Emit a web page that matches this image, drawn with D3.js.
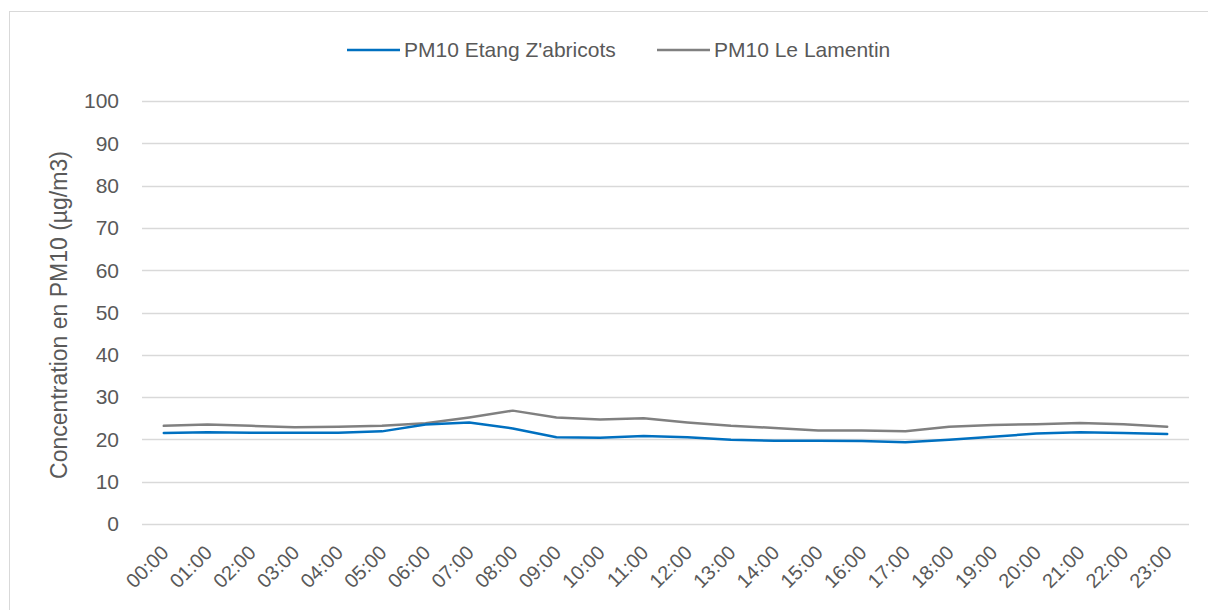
<!DOCTYPE html>
<html>
<head>
<meta charset="utf-8">
<script src="https://cdn.jsdelivr.net/npm/d3@7"></script>
<style>
  body { margin: 0; background: #fff; }
  svg text { font-family: "Liberation Sans", Arial, sans-serif; fill: #595959; }
</style>
</head>
<body>
<div id="chart"></div>
<script>
var hours = ["00:00","01:00","02:00","03:00","04:00","05:00","06:00","07:00","08:00","09:00","10:00","11:00",
             "12:00","13:00","14:00","15:00","16:00","17:00","18:00","19:00","20:00","21:00","22:00","23:00"];
var etangValues = [21.5, 21.7, 21.6, 21.6, 21.6, 21.9, 23.5, 24.0, 22.6, 20.5, 20.4, 20.8,
                   20.5, 19.9, 19.7, 19.7, 19.6, 19.3, 19.9, 20.6, 21.4, 21.7, 21.5, 21.3];
var lamentinValues = [23.2, 23.5, 23.2, 22.9, 23.0, 23.2, 23.8, 25.2, 26.8, 25.2, 24.7, 25.0,
                      24.0, 23.2, 22.7, 22.1, 22.1, 21.9, 23.0, 23.4, 23.6, 23.9, 23.6, 23.0];
var yTicks = [0, 10, 20, 30, 40, 50, 60, 70, 80, 90, 100];
var seriesNames = ["PM10 Etang Z'abricots", "PM10 Le Lamentin"];
var seriesColors = ["#0070C0", "#808080"];

var width = 1208, height = 610;
var margin = {left: 142, right: 20, top: 101, bottom: 86};

var svg = d3.select("#chart").append("svg")
    .attr("width", width)
    .attr("height", height);

// chart border
svg.append("rect")
    .attr("x", 9.5).attr("y", 11.5)
    .attr("width", 1230).attr("height", 640)
    .attr("fill", "none")
    .attr("stroke", "#d9d9d9")
    .attr("stroke-width", 1);

var x = d3.scaleBand()
    .domain(hours)
    .range([margin.left, 1189]);

var y = d3.scaleLinear()
    .domain([0, 100])
    .range([524, margin.top]);

// gridlines
svg.append("g")
    .selectAll("line")
    .data(yTicks)
    .enter()
    .append("line")
    .attr("x1", margin.left)
    .attr("x2", 1189)
    .attr("y1", function(d) { return Math.round(y(d)) + 0.5; })
    .attr("y2", function(d) { return Math.round(y(d)) + 0.5; })
    .attr("stroke", "#d9d9d9")
    .attr("stroke-width", 1.5);

// y tick labels
svg.append("g")
    .selectAll("text")
    .data(yTicks)
    .enter()
    .append("text")
    .attr("x", 119)
    .attr("y", function(d) { return y(d); })
    .attr("dy", "0.35em")
    .attr("text-anchor", "end")
    .style("font-size", "21px")
    .text(function(d) { return d; });

// x tick labels
svg.append("g")
    .selectAll("text")
    .data(hours)
    .enter()
    .append("text")
    .attr("transform", function(d) {
        var cx = x(d) + x.bandwidth() / 2;
        return "translate(" + (cx + 1) + "," + 549 + ") rotate(-45)";
    })
    .attr("text-anchor", "end")
    .attr("dy", "0.35em")
    .style("font-size", "20px")
    .text(function(d) { return d; });

// y axis title
svg.append("text")
    .attr("transform", "translate(67,315) rotate(-90)")
    .attr("text-anchor", "middle")
    .style("font-size", "23px")
    .text("Concentration en PM10 (\u00b5g/m3)");

var line = d3.line()
    .x(function(d, i) { return x(hours[i]) + x.bandwidth() / 2; })
    .y(function(d) { return y(d); });

[lamentinValues, etangValues].forEach(function(vals, k) {
    svg.append("path")
        .datum(vals)
        .attr("d", line)
        .attr("fill", "none")
        .attr("stroke", k === 0 ? seriesColors[1] : seriesColors[0])
        .attr("stroke-width", 2.5)
        .attr("stroke-linejoin", "round")
        .attr("stroke-linecap", "round");
});

// legend
var legendX = [347, 657];
var legend = svg.append("g")
    .selectAll("g")
    .data(seriesNames)
    .enter()
    .append("g")
    .attr("transform", function(d, i) { return "translate(" + legendX[i] + ",50)"; });

legend.append("line")
    .attr("x1", 0).attr("x2", 53)
    .attr("stroke", function(d, i) { return seriesColors[i]; })
    .attr("stroke-width", 2.5);

legend.append("text")
    .attr("x", 57)
    .attr("dy", "0.35em")
    .style("font-size", "21px")
    .text(function(d) { return d; });
</script>
</body>
</html>
